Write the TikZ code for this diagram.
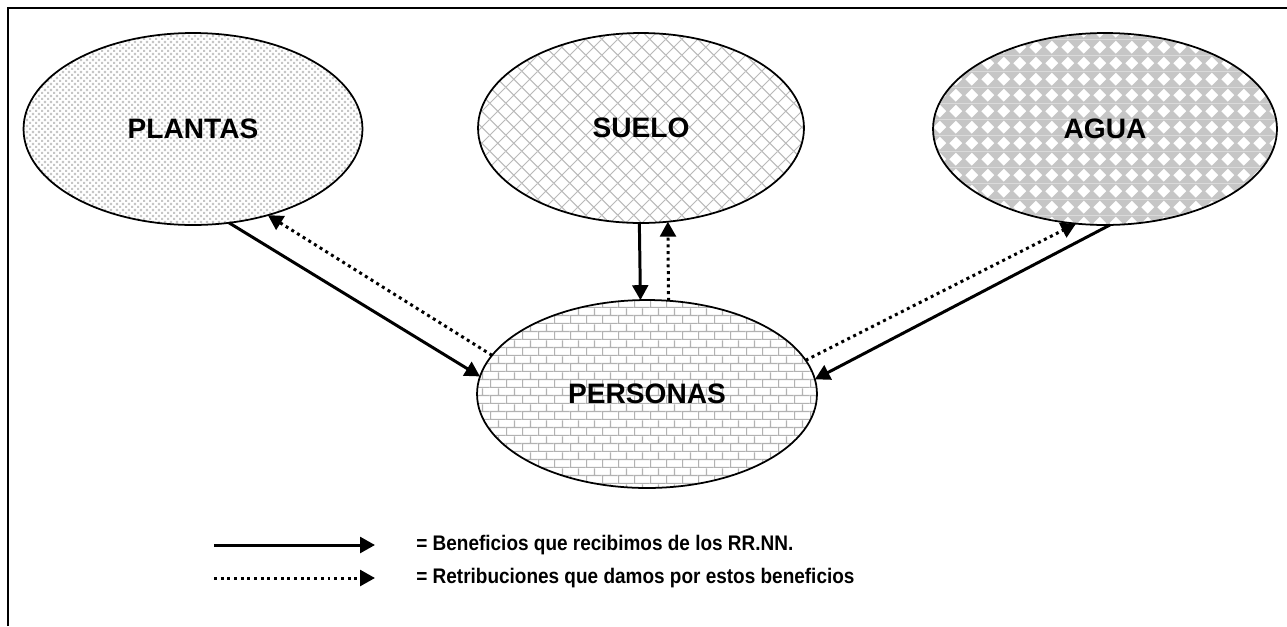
\documentclass[tikz,border=0pt]{standalone}
\usepackage{fontspec}
\setmainfont{Liberation Sans}
\newfontfamily\legendfont{Liberation Sans}[FakeStretch=0.9]
\usetikzlibrary{positioning,arrows.meta,shapes.geometric,patterns.meta}

% fill patterns for the four resources
\tikzdeclarepattern{name=plantdots, type=colored,
  bottom left={(0pt,0pt)}, top right={(3.4pt,3.4pt)}, tile size={(3.4pt,3.4pt)},
  code={
    \fill[white] (0pt,0pt) rectangle (3.4pt,3.4pt);
    \fill[gray!45] (0pt,0pt) rectangle (1.2pt,1.2pt);
    \fill[gray!45] (1.7pt,1.7pt) rectangle (2.9pt,2.9pt);
  }}
\tikzdeclarepattern{name=shingles, type=colored,
  bottom left={(0pt,0pt)}, top right={(9pt,9pt)}, tile size={(9pt,9pt)},
  code={
    \fill[white] (0pt,0pt) rectangle (9pt,9pt);
    \draw[gray!55, line width=0.6pt] (0pt,0pt) -- (9pt,9pt) (0pt,9pt) -- (9pt,0pt);
  }}
\tikzdeclarepattern{name=checkdiamonds, type=colored,
  bottom left={(0pt,0pt)}, top right={(9pt,9pt)}, tile size={(9pt,9pt)},
  code={
    \fill[gray!45] (0pt,0pt) rectangle (9pt,9pt);
    \fill[white] (4.5pt,0.8pt) -- (8.2pt,4.5pt) -- (4.5pt,8.2pt) -- (0.8pt,4.5pt) -- cycle;
  }}
\tikzdeclarepattern{name=brickwall, type=colored,
  bottom left={(0pt,0pt)}, top right={(9pt,9pt)}, tile size={(9pt,9pt)},
  code={
    \fill[white] (0pt,0pt) rectangle (9pt,9pt);
    \draw[gray!60, line width=0.7pt] (0pt,0.35pt) -- (9pt,0.35pt) (0pt,4.85pt) -- (9pt,4.85pt)
      (0.35pt,0.35pt) -- (0.35pt,4.85pt) (4.85pt,4.85pt) -- (4.85pt,9pt);
  }}

\begin{document}
\begin{tikzpicture}[
    x=0.02cm, y=-0.02cm,
    res/.style={ellipse, draw, line width=1pt, inner sep=0pt, outer sep=0pt,
      font=\bfseries\fontsize{16}{19}\selectfont},
    gives/.style={-{Triangle[length=8.5pt,width=9pt]}, line width=1.7pt},
    returns/.style={gives, dash pattern=on 1.7pt off 2.1pt},
    legtext/.style={anchor=west, inner sep=0pt, font=\legendfont\bfseries\fontsize{12}{14.4}\selectfont}
]
\useasboundingbox (0,0) rectangle (1287,626);
\draw[line width=1.1pt] (8,626) -- (8,8) -- (1287,8);

\node[res, pattern=plantdots, minimum width=6.78cm, minimum height=3.84cm] (plantas) at (193,129) {PLANTAS};
\node[res, pattern=shingles, minimum width=6.52cm, minimum height=3.8cm] (suelo) at (641,128) {SUELO};
\node[res, pattern=checkdiamonds, minimum width=6.88cm, minimum height=3.84cm] (agua) at (1105,129) {AGUA};
\node[res, pattern=brickwall, minimum width=6.8cm, minimum height=3.76cm] (personas) at (647,394) {PERSONAS};

\draw[gives] (plantas.-69) -- (personas.174);
\draw[returns] (personas.166) -- (plantas.-49);
\draw[gives] (suelo.-91) -- (personas.94);
\draw[returns] (personas.77) -- (suelo.-74);
\draw[returns] (personas.12) -- (agua.-107);
\draw[gives] (agua.-87) -- (personas.5);

% legend
\coordinate (g1) at (214,545);
\coordinate (g2) at (375,545);
\coordinate (r1) at (214,578);
\coordinate (r2) at (375,578);
\draw[gives] (g1) -- (g2);
\draw[returns] (r1) -- (r2);
\node[legtext] (gtext) at (416,545) {= Beneficios que recibimos de los RR.NN.};
\node[legtext] (rtext) at (416,578) {= Retribuciones que damos por estos beneficios};
\end{tikzpicture}
\end{document}
